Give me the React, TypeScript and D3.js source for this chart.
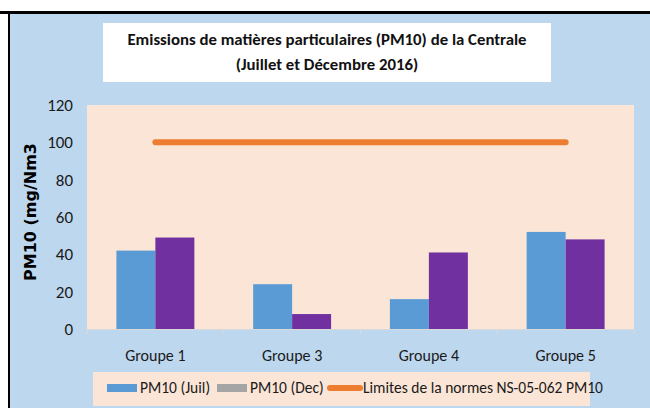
import React from 'react'
import * as d3 from 'd3'

const categories = ['Groupe 1', 'Groupe 3', 'Groupe 4', 'Groupe 5']
const pm10Juil = [42, 24, 16, 52]
const pm10Dec = [49, 8, 41, 48]
const limite = [100, 100, 100, 100]
const yTicks = [0, 20, 40, 60, 80, 100, 120]
const seriesNames = ['PM10 (Juil)', 'PM10 (Dec)']

const W = 650
const H = 408
const plot = { left: 87, right: 634, top: 105, bottom: 329 }
const font = "Carlito, 'Liberation Sans Narrow', 'Open Sans', sans-serif"

export default function App() {
  const x0 = d3.scaleBand<string>()
    .domain(categories)
    .range([plot.left, plot.right])
    .paddingInner(0.43)
    .paddingOuter(0.215)

  const x1 = d3.scaleBand<string>()
    .domain(seriesNames)
    .range([0, x0.bandwidth()])

  const y = d3.scaleLinear().domain([0, 120]).range([plot.bottom, plot.top])

  const line = d3.line<number>()
    .x((_, i) => (x0(categories[i]) as number) + x0.bandwidth() / 2)
    .y(d => y(d))

  const colors = ['#5b9bd5', '#7030a0']

  return (
    <svg width={W} height={H} style={{ position: 'absolute', left: 0, top: 0 }} fontFamily={font}>
      <rect x={0} y={0} width={W} height={H} fill="#fff" />
      {/* outer chart background */}
      <rect x={9} y={12} width={W - 9} height={H - 12} fill="#bdd7ee" />
      <line x1={0} x2={W} y1={12.5} y2={12.5} stroke="#000" strokeWidth={3} />
      <line x1={9} x2={9} y1={11} y2={H} stroke="#000" strokeWidth={2} />

      {/* title */}
      <rect x={103} y={23} width={448} height={59} fill="#fff" />
      <text x={327} y={45} textAnchor="middle" fontSize={16.8} fontWeight="bold" fill="#111">
        Emissions de matières particulaires (PM10) de la Centrale
      </text>
      <text x={327} y={70} textAnchor="middle" fontSize={16.8} fontWeight="bold" fill="#111">
        (Juillet et Décembre 2016)
      </text>

      {/* plot area */}
      <rect x={plot.left} y={plot.top} width={plot.right - plot.left} height={plot.bottom - plot.top} fill="#fbe5d6" />

      {/* y axis */}
      {yTicks.map(t => (
        <text key={t} x={73} y={y(t)} dy="0.35em" textAnchor="end" fontSize={17} fill="#1a1a1a">
          {t}
        </text>
      ))}
      <text
        transform="translate(30, 212) rotate(-90)"
        textAnchor="middle"
        dy="0.35em"
        fontSize={16}
        fontWeight="bold"
        fontFamily="'DejaVu Sans', Verdana, sans-serif"
        fill="#000"
      >
        PM10 (mg/Nm3
      </text>

      {/* bars */}
      {categories.map((c, i) => (
        <g key={c} transform={`translate(${x0(c)},0)`}>
          {[pm10Juil[i], pm10Dec[i]].map((v, j) => (
            <rect
              key={j}
              x={x1(seriesNames[j])}
              y={y(v)}
              width={x1.bandwidth()}
              height={y(0) - y(v)}
              fill={colors[j]}
            />
          ))}
        </g>
      ))}

      {/* x axis */}
      <line x1={plot.left} x2={plot.right} y1={plot.bottom + 0.5} y2={plot.bottom + 0.5} stroke="#d9d9d9" />
      {d3.range(categories.length + 1).map(i => {
        const xx = plot.left + x0.step() * i
        return <line key={i} x1={xx} x2={xx} y1={plot.bottom} y2={plot.bottom + 5} stroke="#d9d9d9" />
      })}
      {categories.map(c => (
        <text key={c} x={(x0(c) as number) + x0.bandwidth() / 2} y={355} dy="0.35em" textAnchor="middle" fontSize={16} fill="#1a1a1a">
          {c}
        </text>
      ))}

      {/* limit line */}
      <path d={line(limite) || ''} fill="none" stroke="#ed7d31" strokeWidth={6} strokeLinecap="round" />

      {/* legend */}
      <rect x={93} y={372} width={497} height={34} fill="#fbe5d6" />
      <rect x={107} y={384} width={30} height={8} fill="#5b9bd5" />
      <text x={140} y={388} dy="0.35em" fontSize={15.5} fill="#1a1a1a">PM10 (Juil)</text>
      <rect x={217} y={384} width={30} height={8} fill="#a5a5a5" />
      <text x={250} y={388} dy="0.35em" fontSize={15.5} fill="#1a1a1a">PM10 (Dec)</text>
      <line x1={330} x2={360} y1={388} y2={388} stroke="#ed7d31" strokeWidth={6} strokeLinecap="round" />
      <text x={363} y={388} dy="0.35em" fontSize={15.5} fill="#1a1a1a">Limites de la normes NS-05-062 PM10</text>
    </svg>
  )
}
